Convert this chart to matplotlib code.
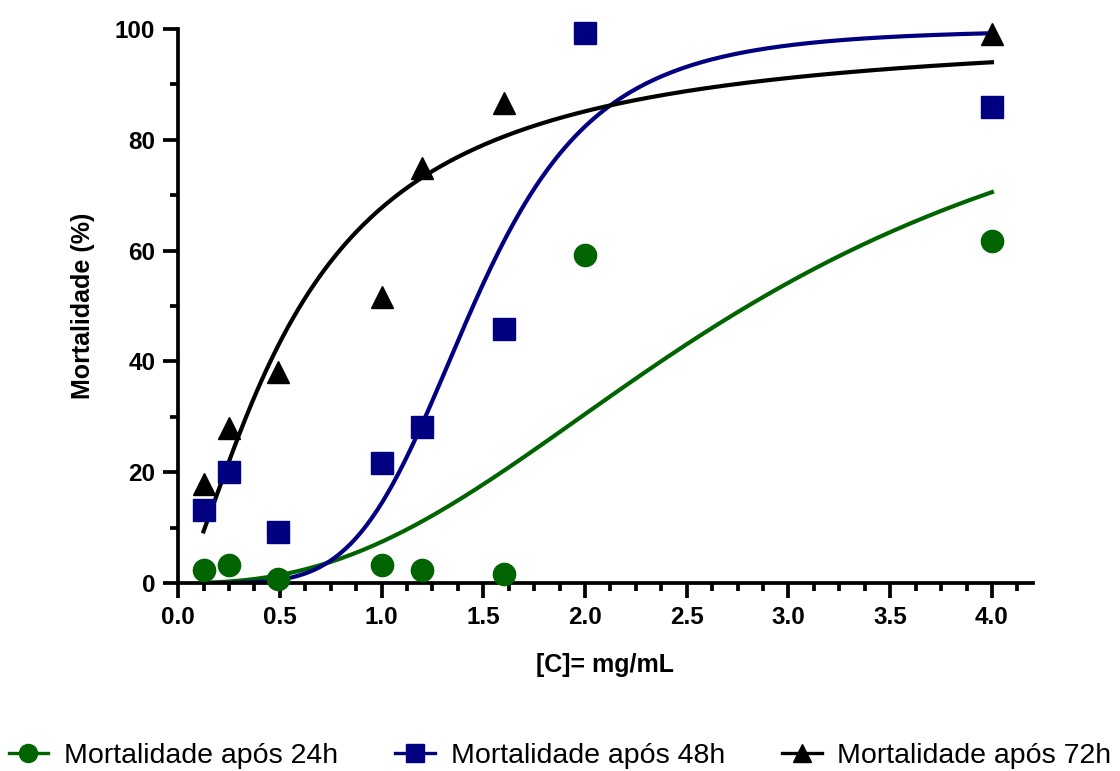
import matplotlib
matplotlib.use("Agg")
import matplotlib.pyplot as plt
import numpy as np
from matplotlib.ticker import MultipleLocator

plt.rcParams['font.family'] = ['Liberation Sans', 'DejaVu Sans']

conc = [0.125, 0.25, 0.49, 1.0, 1.2, 1.6, 2.0, 4.0]
mort_24h = [2.3, 3.2, 0.7, 3.2, 2.3, 1.6, 59.2, 61.7]
mort_48h = [13.2, 20.0, 9.2, 21.7, 28.2, 45.8, 99.3, 85.9]
conc_72h = [0.125, 0.25, 0.49, 1.0, 1.2, 1.6, 4.0]
mort_72h = [17.9, 28.0, 38.1, 51.6, 74.9, 86.6, 99.1]

# dose-response fit parameters (top, EC50, Hill slope)
fit_top = [100, 100, 100]
fit_ec50 = [2.8, 1.45, 0.6]
fit_hill = [2.45, 4.8, 1.45]

labels = ["Mortalidade após 24h", "Mortalidade após 48h", "Mortalidade após 72h"]
colors = ["#006400", "#000080", "#000000"]
markers = ["o", "s", "^"]

fig = plt.figure(figsize=(11.2, 7.71), dpi=100)
ax = fig.add_axes([0.159, 0.2438, 0.763, 0.7186])

xs = np.linspace(0.125, 4.0, 300)
series = [(conc, mort_24h), (conc, mort_48h), (conc_72h, mort_72h)]
for i, (cx, cy) in enumerate(series):
    fit = fit_top[i] * xs**fit_hill[i] / (xs**fit_hill[i] + fit_ec50[i]**fit_hill[i])
    ax.plot(xs, fit, color=colors[i], lw=3, zorder=2)
    ax.plot(cx, cy, linestyle='none', marker=markers[i], color=colors[i],
            markersize=16, clip_on=False, zorder=3)

ax.set_xlim(0, 4.2)
ax.set_ylim(0, 100)
ax.xaxis.set_major_locator(MultipleLocator(0.5))
ax.xaxis.set_minor_locator(MultipleLocator(0.125))
ax.yaxis.set_major_locator(MultipleLocator(20))
ax.yaxis.set_minor_locator(MultipleLocator(10))
ax.xaxis.set_major_formatter(matplotlib.ticker.FormatStrFormatter('%.1f'))

for s in ['top', 'right']:
    ax.spines[s].set_visible(False)
for s in ['left', 'bottom']:
    ax.spines[s].set_linewidth(2.7)

ax.tick_params(which='major', length=10.5, width=2.7, labelsize=17.5, pad=6)
ax.tick_params(which='minor', length=6, width=2.7)
for lab in ax.get_xticklabels() + ax.get_yticklabels():
    lab.set_fontweight('bold')

ax.set_xlabel("[C]= mg/mL", fontsize=18, fontweight='bold', labelpad=17)
ax.set_ylabel("Mortalidade (%)", fontsize=18, fontweight='bold', labelpad=14)

handles = [plt.Line2D([], [], color=colors[i], marker=markers[i], lw=2.4,
                      markersize=13) for i in range(3)]
fig.legend(handles, labels, loc='lower center', bbox_to_anchor=(0.5, -0.03),
           ncol=3, frameon=False, fontsize=20.5, handlelength=1.4,
           handletextpad=0.55, columnspacing=2.0)

fig.savefig("out.png", dpi=100)
